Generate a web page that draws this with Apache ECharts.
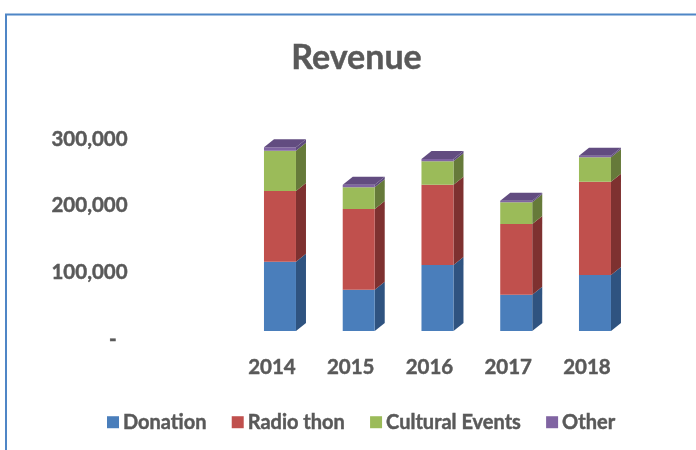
<!DOCTYPE html>
<html><head><meta charset="utf-8">
<style>html,body{margin:0;padding:0;background:#fff}#c{width:696px;height:450px}</style>
<script src="https://cdn.jsdelivr.net/npm/echarts@6/dist/echarts.min.js"></script></head>
<body><div id="c"></div>
<script>
const years = ['2014','2015','2016','2017','2018'];
const donation = [104000,62000,99000,54500,84000];
const radioThon = [106000,121000,120500,106000,140000];
const culturalEvents = [60500,32500,35000,32500,36500];
const other = [5000,4000,3500,2500,2500];
const seriesNames = ['Donation','Radio thon','Cultural Events','Other'];
const seriesValues = [donation, radioThon, culturalEvents, other];
const frontColors = ['#4A7EBB','#C0504D','#9BBB59','#8064A2'];
const sideColors = ['#2F5380','#7E3130','#667A3A','#5E4A7C'];
const topColors = ['#4A7EBB','#C0504D','#9BBB59','#624C80'];
const FONT = 'Lato';
const TEXT = '#595959';
const bold = {fontFamily:FONT,fontWeight:'bold',color:TEXT,textBorderColor:TEXT,textBorderWidth:0.45};

const DEPTH = 8, BAR_W = 32, SIDE = 10;
function makeRender(si){
  return function(params, api){
    const c = api.coord([api.value(0), api.value(1)]);
    const t = api.coord([api.value(0), api.value(2)]);
    const x0 = c[0] + DEPTH - BAR_W/2, x1 = x0 + BAR_W;
    const yb = c[1] - DEPTH, yt = t[1] - DEPTH;
    const kids = [
      {type:'polygon', shape:{points:[[x1,yb],[x1+SIDE,yb-DEPTH],[x1+SIDE,yt-DEPTH],[x1,yt]]}, style:{fill:sideColors[si]}},
      {type:'rect', shape:{x:x0,y:yt,width:BAR_W,height:yb-yt}, style:{fill:frontColors[si]}}
    ];
    if(si === seriesValues.length-1){
      kids.push({type:'polygon', shape:{points:[[x0,yt],[x1,yt],[x1+SIDE,yt-DEPTH],[x0+SIDE,yt-DEPTH]]}, style:{fill:topColors[si]}});
    }
    return {type:'group', children:kids};
  };
}
const series = seriesNames.map((name,si)=>({
  name, type:'custom', coordinateSystem:'cartesian2d', clip:false,
  itemStyle:{color:frontColors[si]},
  renderItem:makeRender(si),
  encode:{x:0,y:[1,2]},
  data:years.map((y,i)=>{
    let base=0; for(let k=0;k<si;k++) base+=seriesValues[k][i];
    return [i,base,base+seriesValues[si][i]];
  })
}));
const chart = echarts.init(document.getElementById('c'),null,{renderer:'canvas'});
chart.setOption({
  animation:false,
  backgroundColor:'#fff',
  textStyle:{fontFamily:FONT},
  title:{text:'Revenue',left:351.5,textAlign:'center',top:36,textStyle:{...bold,fontSize:34}},
  grid:{left:232.6,top:139,width:393.75,height:200},
  xAxis:{type:'category',data:years,axisLine:{show:false},axisTick:{show:false},
    axisLabel:{margin:18,...bold,fontSize:20.5}},
  yAxis:{type:'value',min:0,max:300000,interval:100000,splitLine:{show:false},axisLine:{show:false},axisTick:{show:false},
    axisLabel:{margin:105,...bold,fontSize:20.5,
      formatter:v=>v===0?'{d|-}':v.toLocaleString('en-US'),
      rich:{d:{padding:[0,11,0,0],...bold,fontSize:20.5}}}},
  legend:{data:seriesNames,left:107,top:412,padding:0,itemWidth:12,itemHeight:12,itemGap:25,icon:'rect',
    textStyle:{...bold,fontSize:20,padding:[0,0,0,-1]}},
  graphic:[{type:'polyline',silent:true,shape:{points:[[6,450],[6,14.5],[696,14.5]]},style:{fill:null,stroke:'#4F86C6',lineWidth:2}}],
  series
});
</script></body></html>
